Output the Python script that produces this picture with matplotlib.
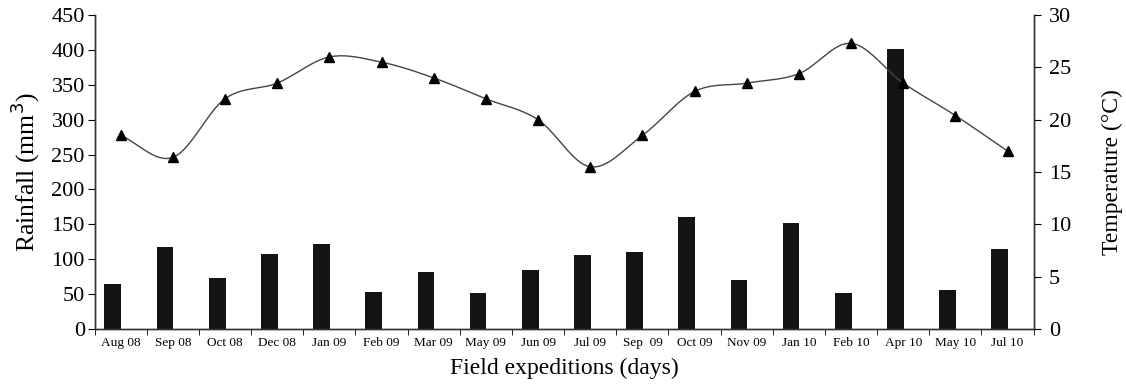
import matplotlib
matplotlib.use("Agg")
import matplotlib.pyplot as plt
import numpy as np

expeditions = ["Aug 08", "Sep 08", "Oct 08", "Dec 08", "Jan 09", "Feb 09", "Mar 09",
               "May 09", "Jun 09", "Jul 09", "Sep  09", "Oct 09", "Nov 09", "Jan 10",
               "Feb 10", "Apr 10", "May 10", "Jul 10"]
rainfall = [65, 118, 73, 108, 122, 53, 81, 52, 85, 106, 111, 160, 70, 152, 51, 401, 56, 115]
temperature = [18.5, 16.4, 22.0, 23.5, 26.0, 25.5, 24.0, 22.0, 20.0, 15.5, 18.5, 22.7,
               23.5, 24.4, 27.3, 23.5, 20.4, 17.0]


def smooth_curve(x, y, steps=20):
    # Catmull-Rom smoothing like the spreadsheet "smoothed line" option
    x = np.asarray(x, float)
    y = np.asarray(y, float)
    px = np.concatenate([[2 * x[0] - x[1]], x, [2 * x[-1] - x[-2]]])
    py = np.concatenate([[2 * y[0] - y[1]], y, [2 * y[-1] - y[-2]]])
    out_x, out_y = [], []
    t = np.linspace(0, 1, steps, endpoint=False)
    for i in range(1, len(px) - 2):
        for p, out in ((px, out_x), (py, out_y)):
            p0, p1, p2, p3 = p[i - 1], p[i], p[i + 1], p[i + 2]
            out.extend(0.5 * (2 * p1 + (-p0 + p2) * t
                              + (2 * p0 - 5 * p1 + 4 * p2 - p3) * t ** 2
                              + (-p0 + 3 * p1 - 3 * p2 + p3) * t ** 3))
    out_x.append(x[-1])
    out_y.append(y[-1])
    return out_x, out_y


plt.rcParams["font.family"] = ["Liberation Serif", "DejaVu Serif"]

fig = plt.figure(figsize=(11.26, 3.87), dpi=100)
ax = fig.add_axes([0.084, 0.150, 0.834, 0.811])
pos = np.arange(len(expeditions))

# bars sit slightly left of the category centre, as in the original
ax.bar(pos - 0.15, rainfall, width=0.32, color="#141414", zorder=2)
ax.set_xlim(-0.5, len(expeditions) - 0.5)
ax.set_ylim(0, 450)
ax.set_yticks(range(0, 451, 50))
ax.set_xticks(pos)
ax.set_xticklabels(expeditions, fontsize=9.5)
ax.set_xticks(np.arange(-0.5, len(expeditions), 1), minor=True)
ax.tick_params(axis="x", which="major", length=0, pad=6)
ax.tick_params(axis="x", which="minor", length=4, direction="out")
ax.tick_params(axis="y", labelsize=16, length=5, pad=2)
ax.spines["top"].set_visible(False)
ax.set_ylabel("Rainfall (mm$^3$)", fontsize=18.5, labelpad=7)
ax.set_xlabel("Field expeditions (days)", fontsize=17, labelpad=6)

ax2 = ax.twinx()
sx, sy = smooth_curve(pos, temperature)
ax2.plot(sx, sy, color="#444444", linewidth=1.0, zorder=3)
ax2.plot(pos, temperature, linestyle="none", marker="^", markersize=6.5,
         color="black", zorder=4)
ax2.set_ylim(0, 30)
ax2.set_yticks(range(0, 31, 5))
ax2.tick_params(axis="y", labelsize=16, length=5, pad=6)
ax2.spines["top"].set_visible(False)
ax2.set_ylabel("Temperature (°C)", fontsize=17, labelpad=22)

for a in (ax, ax2):
    for s in a.spines.values():
        s.set_color("#333333")
        s.set_linewidth(1.0)

fig.savefig("out.png", dpi=100)
